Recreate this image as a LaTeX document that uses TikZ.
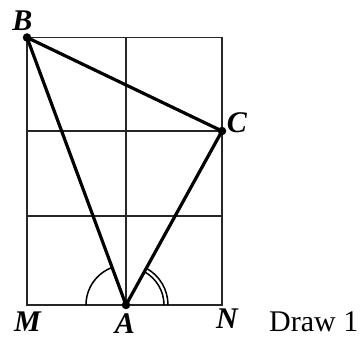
\documentclass[tikz,border=0pt]{standalone}
\usepackage{fontspec}
\setmainfont{Liberation Serif}
\begin{document}
\begin{tikzpicture}[x=1pt,y=1pt,
  gridline/.style={line width=1.4pt, black!85},
  side/.style={line width=3.2pt, line cap=round, line join=round},
  dot/.style={circle, fill, inner sep=0pt, minimum size=8.5pt},
  anglearc/.style={line width=1.5pt},
  lab/.style={font=\fontsize{30}{32}\selectfont\bfseries\itshape, inner sep=0pt, anchor=base},
  caption/.style={font=\fontsize{30}{32}\selectfont, inner sep=0pt, anchor=base west}]
\useasboundingbox (0,0) rectangle (361,-339);
% grid points
\coordinate (M) at (27,-305);
\coordinate (A) at (126,-305);
\coordinate (N) at (222,-305);
\coordinate (B) at (27,-37.5);
\coordinate (T) at (126,-37.5);
\coordinate (R) at (222,-37.5);
\coordinate (L1) at (27,-131);
\coordinate (C) at (222,-131);
\coordinate (L2) at (27,-216);
\coordinate (R2) at (222,-216);
% grid
\draw[gridline] (M) rectangle (R);
\draw[gridline] (A) -- (T);
\draw[gridline] (L1) -- (C);
\draw[gridline] (L2) -- (R2);
% angle marks
\draw[anglearc] ([shift={(-40,0)}]A) arc[start angle=180, end angle=110.3, radius=40];
\draw[anglearc] ([shift={(42,0)}]A) arc[start angle=0, end angle=61.1, radius=42];
\draw[anglearc] ([shift={(38,0)}]A) arc[start angle=0, end angle=61.1, radius=38];
% triangle
\draw[side] (A) -- (B) -- (C) -- cycle;
\node[dot] (dA) at (A) {};
\node[dot] (dB) at (B) {};
\node[dot] (dC) at (C) {};
% labels
\node[lab] (lB) at (22.5,-31) {B};
\node[lab] (lC) at (237,-133) {C};
\node[lab] (lM) at (27.5,-331.5) {M};
\node[lab] (lA) at (125,-333.5) {A};
\node[lab] (lN) at (227,-328) {N};
\node[caption] (cap) at (269,-331.5) {Draw 1};
\end{tikzpicture}
\end{document}
